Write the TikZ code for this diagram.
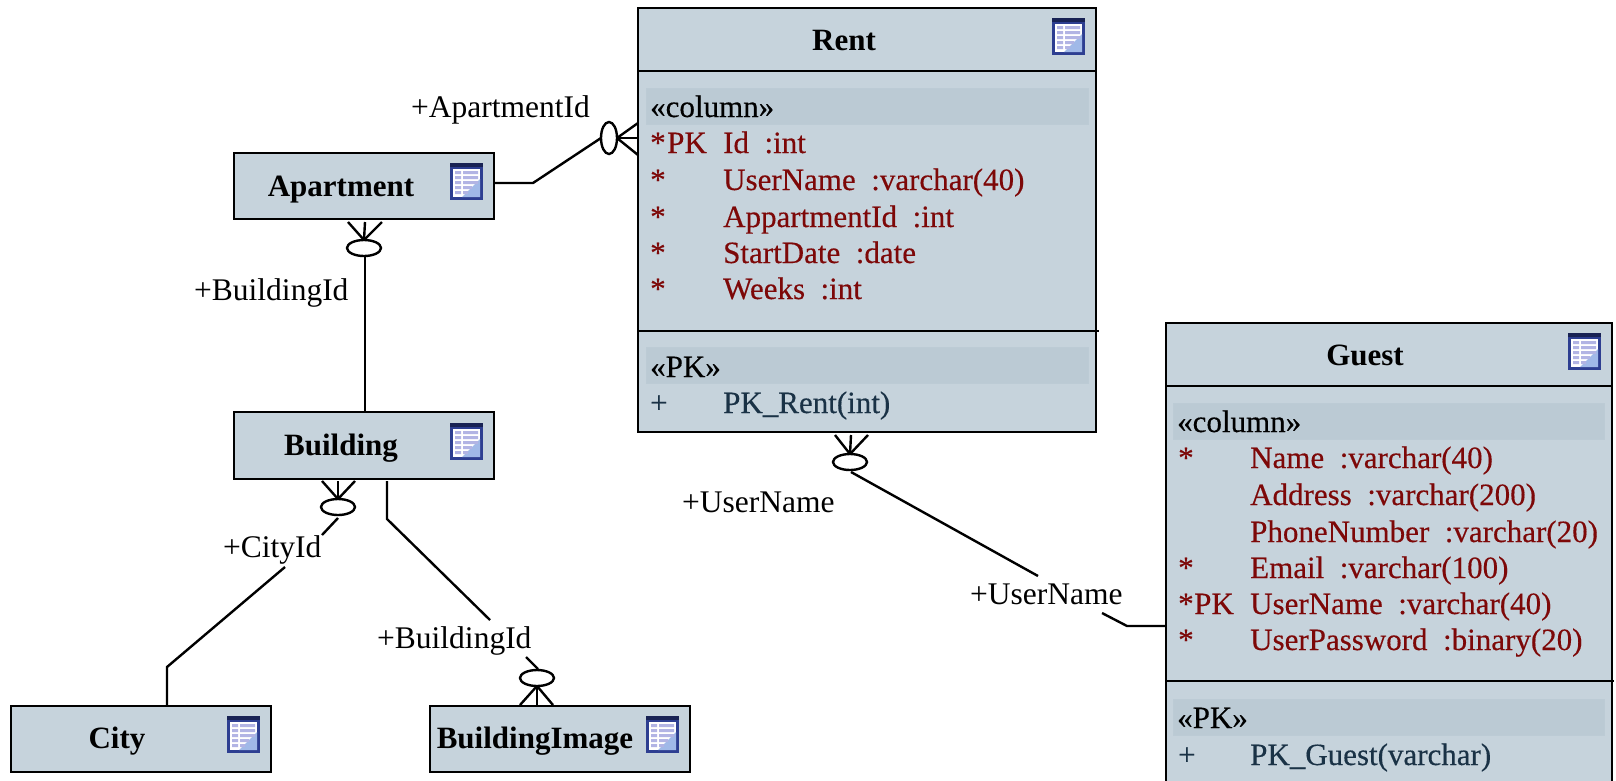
\documentclass[tikz,border=0pt]{standalone}
\usepackage{fontspec}
\setmainfont{Liberation Serif}
\newfontfamily\rowfont[FakeBold=0.35]{Liberation Serif}
\usepackage{xcolor}
\definecolor{tablefill}{RGB}{198,211,220}
\definecolor{bandfill}{RGB}{187,202,212}
\definecolor{columnred}{RGB}{125,8,8}
\definecolor{keynavy}{RGB}{26,50,70}
\definecolor{iconblue}{RGB}{45,62,145}
\definecolor{icondark}{RGB}{24,34,84}
\definecolor{iconrow}{RGB}{178,180,228}
\definecolor{iconshade}{RGB}{160,185,232}
\usetikzlibrary{calc,shapes,positioning}
\tikzset{
  tablebox/.style={draw=black,fill=tablefill,line width=2.8pt,outer sep=0pt,inner sep=0pt},
  band/.style={fill=bandfill,draw=bandfill!90!tablefill,line width=1pt},
  rule/.style={line width=2.4pt},
  link/.style={line width=2.4pt},
  ring/.style={ellipse,draw=black,line width=2.4pt,fill=white,inner sep=0pt,outer sep=0pt,minimum width=#1},
  titletext/.style={anchor=base,inner sep=0pt,font=\fontsize{31}{33}\selectfont\bfseries},
  rowtext/.style={anchor=base west,inner sep=0pt,text=columnred,font=\fontsize{31}{33}\selectfont\rowfont},
  keytext/.style={rowtext,text=keynavy},
  headtext/.style={rowtext,text=black},
  rolelabel/.style={anchor=base west,inner sep=0pt,font=\fontsize{31.5}{33}\selectfont},
  tableicon/.pic={
    \fill[iconblue] (0,0) rectangle (33,37);
    \fill[icondark] (0,0) rectangle (33,4);
    \fill[white] (3,6) rectangle (30,34);
    \fill[iconshade] (30,16) -- (30,34) -- (12,34) -- cycle;
    \fill[iconrow] (5,8) rectangle (11,11) (13,8) rectangle (28,11);
    \fill[iconrow] (5,13) rectangle (11,16) (13,13) rectangle (28,16);
    \fill[iconrow] (5,18) rectangle (11,21) (13,18) rectangle (28,21);
    \fill[iconrow] (5,23) rectangle (11,26) (13,23) rectangle (22,26);
    \fill[iconrow] (5,28) rectangle (11,31) (13,28) rectangle (18,31);
  }
}

\begin{document}
\begin{tikzpicture}[x=1pt,y=-1pt]
    \clip (0,0) rectangle (1616,780);
    \useasboundingbox (0,0) rectangle (1616,780);

    \node[tablebox,minimum width=458pt,minimum height=424pt] (rent) at (867,220) {};
    \node[tablebox,minimum width=260pt,minimum height=66pt] (apartment) at (364,186) {};
    \node[tablebox,minimum width=260pt,minimum height=67pt] (building) at (364,445.5) {};
    \node[tablebox,minimum width=260pt,minimum height=66pt] (city) at (141,739) {};
    \node[tablebox,minimum width=260pt,minimum height=66pt] (image) at (560,739) {};
    \node[tablebox,minimum width=446pt,minimum height=477pt] (guest) at (1389,561.5) {};

    \draw[rule] (rent.west |- 0,71) -- (rent.east |- 0,71);
    \draw[rule] (rent.west |- 0,331) -- (1099,331);
    \draw[rule] (guest.west |- 0,386) -- (guest.east |- 0,386);
    \draw[rule] (guest.west |- 0,681) -- (1614,681);
    \draw[band] (646,88) rectangle (1088,124);
    \draw[band] (646,347) rectangle (1088,383);
    \draw[band] (1173,403) rectangle (1604,439);
    \draw[band] (1173,699) rectangle (1604,735);

    \pic at (1052,18) {tableicon};
    \pic at (450,163) {tableicon};
    \pic at (450,423) {tableicon};
    \pic at (227,716) {tableicon};
    \pic at (646,716) {tableicon};
    \pic at (1568,333) {tableicon};

    \node[titletext] (renttitle) at (844,50) {Rent};
    \node[titletext] (apartmenttitle) at (341,196) {Apartment};
    \node[titletext] (buildingtitle) at (341,455) {Building};
    \node[titletext] (citytitle) at (117,748) {City};
    \node[titletext] (imagetitle) at (535,748) {BuildingImage};
    \node[titletext] (guesttitle) at (1365,365) {Guest};

    \node[headtext] (rent0) at (650,117) {«column»};
    \node[rowtext] (rent1s) at (650,153) {*};
    \node[rowtext] (rent1k) at (667,153) {PK};
    \node[rowtext] (rent1) at (723,153) {Id~~:int};
    \node[rowtext] (rent2s) at (650,190) {*};
    \node[rowtext] (rent2) at (723,190) {UserName~~:varchar(40)};
    \node[rowtext] (rent3s) at (650,227) {*};
    \node[rowtext] (rent3) at (723,227) {AppartmentId~~:int};
    \node[rowtext] (rent4s) at (650,263) {*};
    \node[rowtext] (rent4) at (723,263) {StartDate~~:date};
    \node[rowtext] (rent5s) at (650,299) {*};
    \node[rowtext] (rent5) at (723,299) {Weeks~~:int};
    \node[headtext] (rent6) at (650,377) {«PK»};
    \node[keytext] (rent7s) at (650,413) {+};
    \node[keytext] (rent7) at (723,413) {PK\_Rent(int)};

    \node[headtext] (guest0) at (1177,432) {«column»};
    \node[rowtext] (guest1s) at (1178,468) {*};
    \node[rowtext] (guest1) at (1250,468) {Name~~:varchar(40)};
    \node[rowtext] (guest2) at (1250,505) {Address~~:varchar(200)};
    \node[rowtext] (guest3) at (1250,542) {PhoneNumber~~:varchar(20)};
    \node[rowtext] (guest4s) at (1178,578) {*};
    \node[rowtext] (guest4) at (1250,578) {Email~~:varchar(100)};
    \node[rowtext] (guest5s) at (1178,614) {*};
    \node[rowtext] (guest5k) at (1194,614) {PK};
    \node[rowtext] (guest5) at (1250,614) {UserName~~:varchar(40)};
    \node[rowtext] (guest6s) at (1178,650) {*};
    \node[rowtext] (guest6) at (1250,650) {UserPassword~~:binary(20)};
    \node[headtext] (guest7) at (1177,728) {«PK»};
    \node[keytext] (guest8s) at (1178,765) {+};
    \node[keytext] (guest8) at (1250,765) {PK\_Guest(varchar)};

    \node[rolelabel] (roleapartment) at (411,117) {+ApartmentId};
    \node[rolelabel] (rolebuilding) at (194,300) {+BuildingId};
    \node[rolelabel] (rolecity) at (223,557) {+CityId};
    \node[rolelabel] (roleimage) at (377,648) {+BuildingId};
    \node[rolelabel] (roleuser) at (682,512) {+UserName};
    \node[rolelabel] (roleguest) at (970,604) {+UserName};

    \node[ring=16pt,minimum height=32pt] (ringrent) at (609,138) {};
    \node[ring=34pt,minimum height=16pt] (ringapartment) at (364,248) {};
    \node[ring=34pt,minimum height=16pt] (ringbuilding) at (338,507) {};
    \node[ring=34pt,minimum height=16pt] (ringimage) at (537,678) {};
    \node[ring=34pt,minimum height=16pt] (ringguest) at (850,462) {};

    \draw[link] ([yshift=3pt]apartment.east) -- ++(39,0) coordinate (bendrent) -- (ringrent.west);
    \draw[link] (ringrent.east) -- (rent.west |- ringrent);
    \draw[link] (ringrent.east) -- (rent.west |- 0,123);
    \draw[link] (ringrent.east) -- (rent.west |- 0,155);

    \draw[link] (ringapartment.north) -- (365,222);
    \draw[link] (ringapartment.north) -- (348,222);
    \draw[link] (ringapartment.north) -- (382,222);
    \coordinate (stubapartment) at (365,257);
    \draw[link] (stubapartment) -- (stubapartment |- building.north);

    \draw[link] (ringbuilding.north) -- (338,481);
    \draw[link] (ringbuilding.north) -- (322,481);
    \draw[link] (ringbuilding.north) -- (355,481);
    \coordinate (stubcity) at (338,518);
    \coordinate (gapcitya) at (322,535);
    \coordinate (gapcityb) at (285,567);
    \coordinate (bendcity) at (167,667);
    \draw[link] (stubcity) -- (gapcitya);
    \draw[link] (gapcityb) -- (bendcity) -- (bendcity |- city.north);

    \coordinate (stubimage) at (387,481);
    \coordinate (bendimage) at (387,519);
    \coordinate (gapimagea) at (490,620);
    \coordinate (gapimageb) at (526,657);
    \draw[link] (stubimage) -- (bendimage) -- (gapimagea);
    \draw[link] (gapimageb) -- (538,669);
    \draw[link] (ringimage.south) -- (537,705);
    \draw[link] (ringimage.south) -- (520,705);
    \draw[link] (ringimage.south) -- (553,705);

    \draw[link] (ringguest.north) -- (851,435);
    \draw[link] (ringguest.north) -- (835,435);
    \draw[link] (ringguest.north) -- (868,435);
    \coordinate (stubguest) at (851,472);
    \coordinate (gapguesta) at (1038,576);
    \coordinate (gapguestb) at (1102,613);
    \coordinate (bendguest) at (1127,626);
    \draw[link] (stubguest) -- (gapguesta);
    \draw[link] (gapguestb) -- (bendguest) -- (guest.west |- bendguest);
\end{tikzpicture}
\end{document}
